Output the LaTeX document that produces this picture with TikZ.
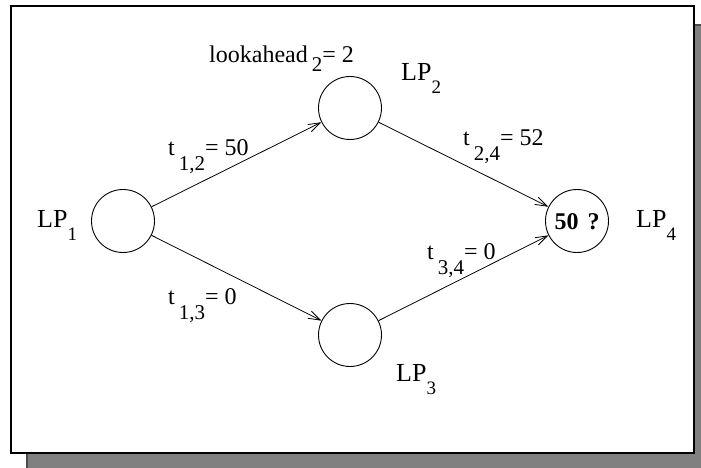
\documentclass[tikz,border=0pt]{standalone}
\usepackage{fontspec}
\setmainfont{Liberation Serif}
\usetikzlibrary{arrows.meta}
\newcommand{\lpsub}[1]{\raisebox{-13pt}{\fontsize{19}{19}\selectfont #1}}
\newcommand{\tsub}[1]{\raisebox{-15pt}{\fontsize{21}{21}\selectfont #1}}
\begin{document}
\begin{tikzpicture}[x=1pt,y=-1pt,
  lp/.style={circle,draw,line width=0.9pt,minimum size=63pt,inner sep=0pt},
  lbl/.style={anchor=base west,inner sep=0pt,font=\fontsize{24}{24}\selectfont},
  lplbl/.style={anchor=base west,inner sep=0pt,font=\fontsize{26}{26}\selectfont},
  conn/.style={draw,line width=0.8pt,-{Straight Barb[length=12pt,width=8pt,line width=0.8pt]}}]
\useasboundingbox (0,0) rectangle (701,468);
% shadow
\fill[black!50] (27,25) rectangle (712,480);
\draw[black!70,line width=1.2pt] (27,480) -- (27,25) -- (712,25);
% frame
\draw[fill=white,line width=1.3pt] (11,6) rectangle (694,453);
% circles
\node[lp] (lp1) at (123,221) {};
\node[lp] (lp2) at (350,108) {};
\node[lp] (lp3) at (350,335) {};
\node[lp] (lp4) at (577,221) {};
\node[anchor=base,inner sep=0pt,font=\fontsize{24}{24}\selectfont\bfseries] (q) at (577,229) {50\hspace{9pt}?};
% labels
\node[lplbl] (l1) at (37,227) {LP\lpsub{1}};
\node[lplbl] (l2) at (401,81) {LP\lpsub{2}};
\node[lplbl] (l3) at (396,381) {LP\lpsub{3}};
\node[lplbl] (l4) at (636,227) {LP\lpsub{4}};
\node[lbl] (la) at (209,63) {lookahead\,\raisebox{-9pt}{\fontsize{21}{21}\selectfont 2}= 2};
\node[lbl] (t12) at (168,155) {t\,\tsub{1,2}= 50};
\node[lbl] (t24) at (463,146) {t\,\tsub{2,4}= 52};
\node[lbl] (t34) at (427,259) {t\,\tsub{3,4}= 0};
\node[lbl] (t13) at (168,304) {t\,\tsub{1,3}= 0};
% connectors
\draw[conn] (lp1) -- (lp2);
\draw[conn] (lp1) -- (lp3);
\draw[conn] (lp2) -- (lp4);
\draw[conn] (lp3) -- (lp4);
\end{tikzpicture}
\end{document}
